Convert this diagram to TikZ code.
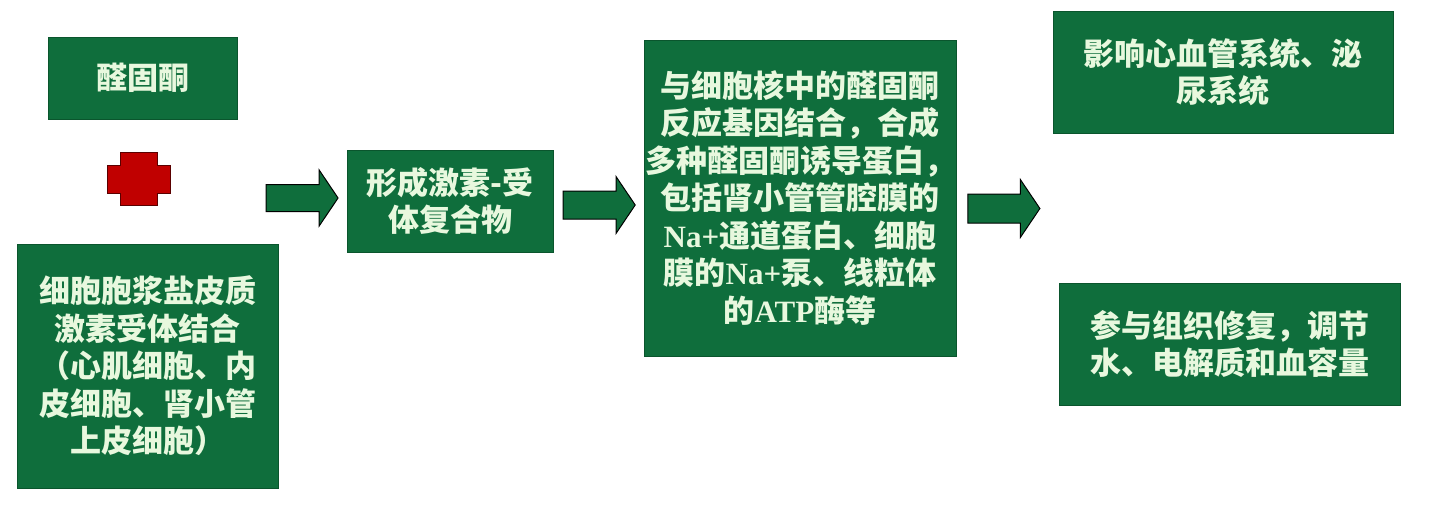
\documentclass[tikz,border=0pt]{standalone}
\usepackage{fontspec}
\usetikzlibrary{shapes.arrows}
\newfontfamily\cjk{Noto Sans CJK SC}
\newfontfamily\lat{Liberation Serif}
\definecolor{boxgreen}{RGB}{15,110,60}
\definecolor{boxedge}{RGB}{10,85,45}
\definecolor{boxtext}{RGB}{232,248,222}
\definecolor{plusred}{RGB}{192,0,0}
\definecolor{plusedge}{RGB}{90,0,0}
\newcommand{\nap}{{\lat Na+}}

\begin{document}
\begin{tikzpicture}[x=1pt, y=-1pt,
    box/.style = {draw=boxedge, fill=boxgreen, text=boxtext, align=center,
                inner sep=0pt, outer sep=0pt, line width=1pt,
                font=\cjk\bfseries\fontsize{31}{37.5}\selectfont},
    bigarrow/.style = {single arrow, draw=black, fill=boxgreen, line width=1pt,
                inner xsep=0pt, inner ysep=#1, minimum height=72,
                single arrow head extend=14.5, single arrow tip angle=112},
    bigarrow/.default = 13pt  % half the shaft thickness
                    ]
        \useasboundingbox (0,0) rectangle (1432,520);
        \node[box, minimum width=189, minimum height=82] at (142.5,78) (ald) {醛固酮};
        \node[box, minimum width=261, minimum height=244] at (147.5,366) (rec)
            {细胞胞浆盐皮质\\激素受体结合\\（心肌细胞、内\\皮细胞、肾小管\\上皮细胞）};
        \node[box, minimum width=206, minimum height=102] at (450,201) (cpx)
            {形成激素-受\\体复合物};
        \node[box, minimum width=312, minimum height=316] at (800,198) (gene)
            {与细胞核中的醛固酮\\反应基因结合，合成\\多种醛固酮诱导蛋白，\\包括肾小管管腔膜的\\
             \nap{}通道蛋白、细胞\\膜的\nap{}泵、线粒体\\的{\lat ATP}酶等};
        \node[box, minimum width=340, minimum height=122] at (1223,72) (heart)
            {影响心血管系统、泌\\尿系统};
        \node[box, minimum width=341, minimum height=122] at (1229.5,344) (repair)
            {参与组织修复，调节\\水、电解质和血容量};
        % the plus sign
        \filldraw[fill=plusred, draw=plusedge, line width=1pt]
            (107,165) -- (120,165) -- (120,152) -- (157,152) -- (157,165) -- (170,165)
            -- (170,193) -- (157,193) -- (157,205) -- (120,205) -- (120,193) -- (107,193) -- cycle;
        % block arrows
        \foreach \x/\y/\s/\v in {297.5/198/13pt/a, 594.5/205/13.5pt/b, 999/208.5/14pt/c}
            \node[bigarrow=\s] at (\x,\y) (arr\v) {};
    \end{tikzpicture}
\end{document}
